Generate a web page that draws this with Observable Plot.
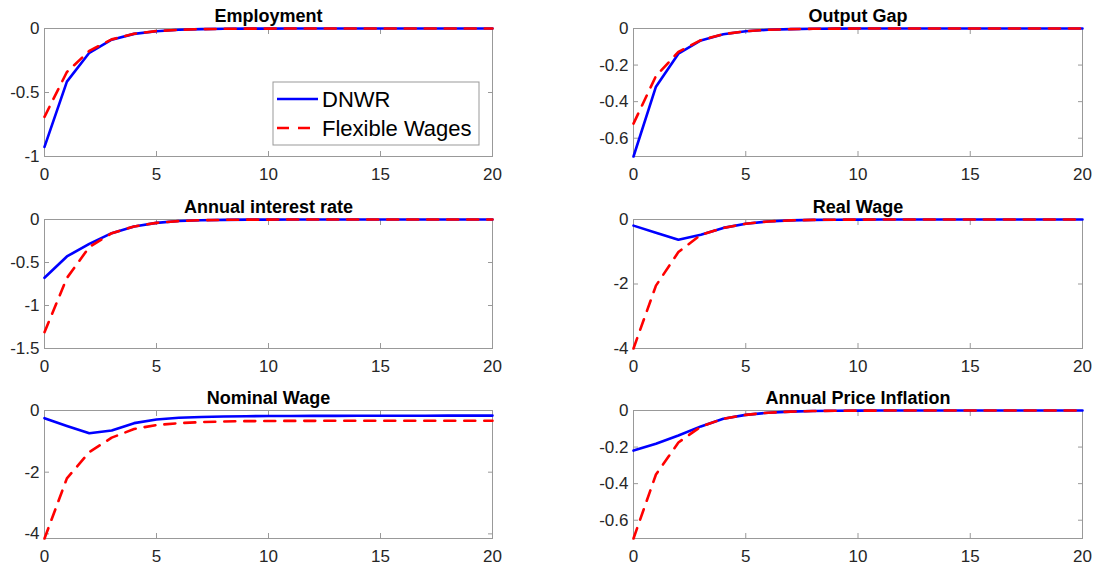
<!DOCTYPE html>
<html><head><meta charset="utf-8">
<script src="https://cdn.jsdelivr.net/npm/d3@7"></script>
<script src="https://cdn.jsdelivr.net/npm/@observablehq/plot@0.6"></script>
<style>
html,body{margin:0;padding:0;background:#fff;}
#wrap{position:relative;width:1098px;height:566px;overflow:hidden;font-family:"Liberation Sans",Arial,sans-serif;}
#wrap > div, #wrap > svg{position:absolute;}
</style></head><body><div id="wrap"></div>
<script>
// ---------- data ----------
const periods = [0,1,2,3,4,5,6,7,8,9,10,11,12,13,14,15,16,17,18,19,20];
const xTicks = [0,5,10,15,20];
const seriesNames = ["DNWR","Flexible Wages"];

const employmentDNWR = [-0.925,-0.415,-0.19,-0.087,-0.042,-0.021,-0.010,-0.005,-0.0025,-0.0012,-0.0006,-0.0003,-0.0002,-0.0001,0,0,0,0,0,0,0];
const employmentFlex = [-0.69,-0.34,-0.175,-0.085,-0.041,-0.020,-0.010,-0.005,-0.0025,-0.0012,-0.0006,-0.0003,-0.0002,-0.0001,0,0,0,0,0,0,0];
const employmentTicks = [-1,-0.5,0];

const outputGapDNWR = [-0.70,-0.318,-0.138,-0.065,-0.031,-0.015,-0.007,-0.0035,-0.0017,-0.0008,-0.0004,-0.0002,-0.0001,0,0,0,0,0,0,0,0];
const outputGapFlex = [-0.52,-0.26,-0.128,-0.064,-0.031,-0.015,-0.007,-0.0035,-0.0017,-0.0008,-0.0004,-0.0002,-0.0001,0,0,0,0,0,0,0,0];
const outputGapTicks = [-0.6,-0.4,-0.2,0];

const interestDNWR = [-0.678,-0.43,-0.283,-0.159,-0.081,-0.039,-0.018,-0.008,-0.004,-0.002,-0.001,-0.0005,-0.0002,0,0,0,0,0,0,0,0];
const interestFlex = [-1.31,-0.68,-0.32,-0.159,-0.081,-0.039,-0.018,-0.008,-0.004,-0.002,-0.001,-0.0005,-0.0002,0,0,0,0,0,0,0,0];
const interestTicks = [-1.5,-1,-0.5,0];

const realWageDNWR = [-0.19,-0.41,-0.63,-0.475,-0.26,-0.13,-0.06,-0.028,-0.013,-0.006,-0.003,-0.0015,-0.0007,0,0,0,0,0,0,0,0];
const realWageFlex = [-4.0,-2.05,-1.01,-0.475,-0.26,-0.13,-0.06,-0.028,-0.013,-0.006,-0.003,-0.0015,-0.0007,0,0,0,0,0,0,0,0];
const realWageTicks = [-4,-2,0];

const nominalWageDNWR = [-0.25,-0.50,-0.74,-0.65,-0.41,-0.29,-0.235,-0.21,-0.195,-0.185,-0.18,-0.177,-0.175,-0.173,-0.171,-0.17,-0.169,-0.168,-0.167,-0.166,-0.165];
const nominalWageFlex = [-4.15,-2.2,-1.35,-0.88,-0.60,-0.47,-0.41,-0.375,-0.355,-0.345,-0.34,-0.337,-0.335,-0.333,-0.332,-0.331,-0.33,-0.33,-0.33,-0.33,-0.33];
const nominalWageTicks = [-4,-2,0];

const inflationDNWR = [-0.219,-0.182,-0.137,-0.087,-0.045,-0.024,-0.012,-0.006,-0.003,-0.0015,-0.0008,-0.0004,-0.0002,-0.0001,0,0,0,0,0,0,0];
const inflationFlex = [-0.70,-0.35,-0.175,-0.088,-0.045,-0.024,-0.012,-0.006,-0.003,-0.0015,-0.0008,-0.0004,-0.0002,-0.0001,0,0,0,0,0,0,0];
const inflationTicks = [-0.6,-0.4,-0.2,0];

const panels = [
  {title:"Employment", dnwr:employmentDNWR, flex:employmentFlex, domain:[-1,0], ticks:employmentTicks, col:0, row:0},
  {title:"Output Gap", dnwr:outputGapDNWR, flex:outputGapFlex, domain:[-0.7,0], ticks:outputGapTicks, col:1, row:0},
  {title:"Annual interest rate", dnwr:interestDNWR, flex:interestFlex, domain:[-1.5,0], ticks:interestTicks, col:0, row:1},
  {title:"Real Wage", dnwr:realWageDNWR, flex:realWageFlex, domain:[-4,0], ticks:realWageTicks, col:1, row:1},
  {title:"Nominal Wage", dnwr:nominalWageDNWR, flex:nominalWageFlex, domain:[-4.15,0], ticks:nominalWageTicks, col:0, row:2},
  {title:"Annual Price Inflation", dnwr:inflationDNWR, flex:inflationFlex, domain:[-0.7,0], ticks:inflationTicks, col:1, row:2}
];

// ---------- layout ----------
const colX = [[44,492],[633,1082]];
const rowY = [[28,156],[219,348],[410,538]];
const ml = 52, mr = 16, mt = 28, mb = 32;
const boxColor = "#999999";
const textColor = "#262626";
const font = '"Liberation Sans", Arial, sans-serif';
const fmt = d => String(d);

const wrap = document.getElementById("wrap");

panels.forEach(p => {
  const [x0,x1] = colX[p.col], [y0,y1] = rowY[p.row];
  const rows = periods.map((t,i) => ({t, dnwr:p.dnwr[i], flex:p.flex[i]}));
  const chart = Plot.plot({
    width: ml + (x1-x0) + mr,
    height: mt + (y1-y0) + mb,
    marginLeft: ml, marginRight: mr, marginTop: mt, marginBottom: mb,
    style: {fontFamily: font, fontSize: "17px", color: textColor, background: "transparent", overflow: "visible"},
    x: {domain:[0,20]},
    y: {domain:p.domain},
    marks: [
      Plot.frame({stroke: boxColor}),
      Plot.axisX({ticks:xTicks, tickSize:0, tickPadding:11, fontSize:17, fill:textColor, label:null, tickFormat:fmt}),
      Plot.axisX({anchor:"bottom", ticks:xTicks, tickSize:-5, fill:"none", stroke:boxColor, label:null}),
      Plot.axisX({anchor:"top", ticks:xTicks, tickSize:-5, fill:"none", stroke:boxColor, label:null}),
      Plot.axisY({ticks:p.ticks, tickSize:0, tickPadding:5, fontSize:17, fill:textColor, label:null, tickFormat:fmt}),
      Plot.axisY({anchor:"left", ticks:p.ticks, tickSize:-5, fill:"none", stroke:boxColor, label:null}),
      Plot.axisY({anchor:"right", ticks:p.ticks, tickSize:-5, fill:"none", stroke:boxColor, label:null}),
      Plot.line(rows, {x:"t", y:"dnwr", stroke:"#0000ff", strokeWidth:2.6}),
      Plot.line(rows, {x:"t", y:"flex", stroke:"#ff0000", strokeWidth:2.6, strokeDasharray:"11,9"}),
      Plot.text([p.title], {frameAnchor:"top", lineAnchor:"middle", dy:-12, fontSize:18, fontWeight:"bold", fill:"#000"})
    ]
  });
  chart.style.position = "absolute";
  chart.style.left = (x0 - ml) + "px";
  chart.style.top = (y0 - mt) + "px";
  wrap.appendChild(chart);
});

// ---------- legend ----------
const leg = d3.select(wrap).append("svg")
  .attr("width", 1098).attr("height", 566)
  .style("left","0px").style("top","0px").style("pointer-events","none");
const lg = leg.append("g").attr("transform","translate(273,82)");
lg.append("rect").attr("x",0).attr("y",0).attr("width",206).attr("height",63)
  .attr("fill","#fff").attr("stroke",boxColor).attr("stroke-width",1);
const legItems = [
  {name:seriesNames[0], color:"#0000ff", dash:null},
  {name:seriesNames[1], color:"#ff0000", dash:"12,9"}
];
legItems.forEach((it,i) => {
  const cy = 17 + i*29;
  lg.append("line").attr("x1",4).attr("x2",45).attr("y1",cy).attr("y2",cy)
    .attr("stroke",it.color).attr("stroke-width",2.6).attr("stroke-dasharray",it.dash);
  lg.append("text").attr("x",49).attr("y",cy+8).text(it.name)
    .attr("font-family",font).attr("font-size",22).attr("fill","#000");
});
</script>
</body></html>
